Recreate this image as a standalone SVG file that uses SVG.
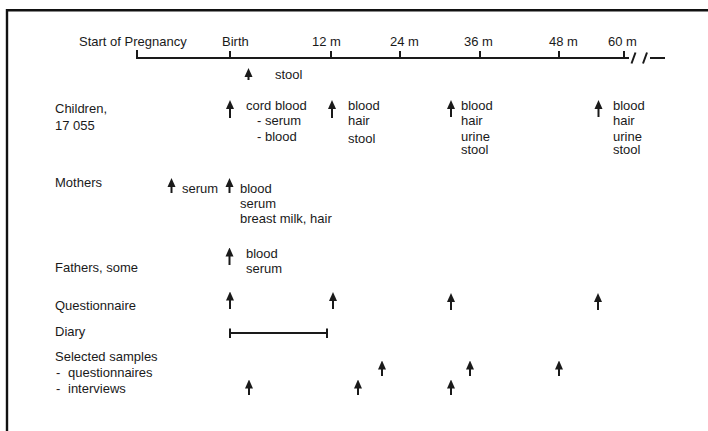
<svg xmlns="http://www.w3.org/2000/svg" width="708" height="431" viewBox="0 0 708 431">
<style>
text{font-family:"Liberation Sans",Arial,Helvetica,sans-serif;font-size:13px;fill:#1a1a1a}
.ax{stroke:#1a1a1a;stroke-width:2;fill:none}
.arr{stroke:#1a1a1a;stroke-width:2;fill:none;marker-end:url(#ah)}
.frame{stroke:#111;stroke-width:2.4;fill:none}
</style>
<defs>
<marker id="ah" markerUnits="userSpaceOnUse" markerWidth="9" markerHeight="9" viewBox="0 0 9 9" refX="1" refY="4.5" orient="auto">
<path d="M0,0.5 L9,4.5 L0,8.5 Z" fill="#1a1a1a"/>
</marker>
</defs>
<rect width="708" height="431" fill="#fff"/>
<path class="frame" d="M7,431 V10.3 H708"/>

<g id="timeline">
<text x="79" y="46">Start of Pregnancy</text>
<text x="222" y="46">Birth</text>
<text x="312" y="46">12 m</text>
<text x="390" y="46">24 m</text>
<text x="464" y="46">36 m</text>
<text x="549" y="46">48 m</text>
<text x="608" y="46">60 m</text>
<path class="ax" d="M137,50 V58 H629 M230,51 V58 M331,51 V58 M400,51 V58 M480,51 V58 M559,51 V58 M624,51 V58"/>
<path class="ax" d="M635.5,52.5 L631.5,63.5 M647,52.5 L643,63.5 M650,58 H665"/>
</g>

<g id="children">
<text x="55" y="113">Children,</text>
<text x="55" y="130">17 055</text>
<text x="275" y="79">stool</text>
<text x="246" y="110">cord blood</text>
<text x="257" y="125">- serum</text>
<text x="257" y="141">- blood</text>
<text x="348" y="110">blood</text>
<text x="348" y="125">hair</text>
<text x="348" y="143">stool</text>
<text x="461" y="110">blood</text>
<text x="461" y="125">hair</text>
<text x="461" y="140.5">urine</text>
<text x="461" y="154">stool</text>
<text x="613" y="110">blood</text>
<text x="613" y="125">hair</text>
<text x="613" y="140.5">urine</text>
<text x="613" y="154">stool</text>
</g>

<g id="mothers">
<text x="55" y="187">Mothers</text>
<text x="182" y="192.5">serum</text>
<text x="240" y="193">blood</text>
<text x="240" y="208">serum</text>
<text x="240" y="223">breast milk, hair</text>
</g>

<g id="fathers">
<text x="55" y="272">Fathers, some</text>
<text x="246" y="258">blood</text>
<text x="246" y="273">serum</text>
</g>

<g id="questionnaire">
<text x="55" y="310">Questionnaire</text>
</g>

<g id="diary">
<text x="55" y="336">Diary</text>
<path class="ax" d="M230,333 H327 M230,328.5 V338 M327,328.5 V338"/>
</g>

<g id="samples">
<text x="55" y="361">Selected samples</text>
<text x="56" y="376.5">-<tspan x="68">questionnaires</tspan></text>
<text x="56" y="392.5">-<tspan x="68">interviews</tspan></text>
</g>

<g id="connectors">
<line class="arr" x1="248.5" y1="80" x2="248.5" y2="76"/>
<line class="arr" x1="230" y1="118" x2="230" y2="108"/>
<line class="arr" x1="332" y1="118" x2="332" y2="108"/>
<line class="arr" x1="451" y1="117" x2="451" y2="108"/>
<line class="arr" x1="598.5" y1="117" x2="598.5" y2="108"/>
<line class="arr" x1="171.5" y1="193" x2="171.5" y2="186"/>
<line class="arr" x1="229.5" y1="193" x2="229.5" y2="186"/>
<line class="arr" x1="229.5" y1="265" x2="229.5" y2="255.5"/>
<line class="arr" x1="230" y1="309" x2="230" y2="299.5"/>
<line class="arr" x1="333" y1="309" x2="333" y2="300"/>
<line class="arr" x1="451" y1="310" x2="451" y2="301"/>
<line class="arr" x1="598" y1="310" x2="598" y2="301"/>
<line class="arr" x1="382" y1="376" x2="382" y2="368.5"/>
<line class="arr" x1="470" y1="376" x2="470" y2="368.5"/>
<line class="arr" x1="559" y1="376" x2="559" y2="368.5"/>
<line class="arr" x1="249" y1="395" x2="249" y2="387.5"/>
<line class="arr" x1="358" y1="395" x2="358" y2="387.5"/>
<line class="arr" x1="451" y1="395" x2="451" y2="387.5"/>
</g>
</svg>
